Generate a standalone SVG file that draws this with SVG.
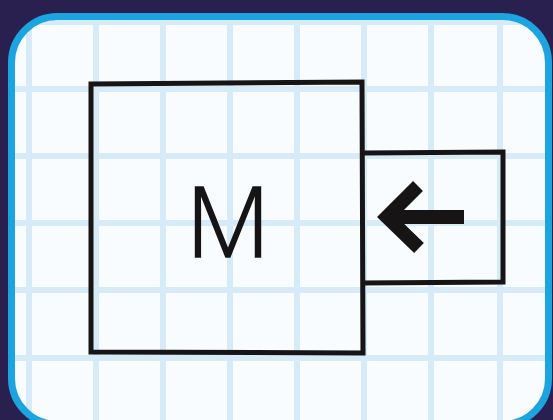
<svg xmlns="http://www.w3.org/2000/svg" width="553" height="420" viewBox="0 0 553 420">
  <defs>
    <clipPath id="paper">
      <rect x="11.5" y="16.5" width="537" height="408" rx="46" ry="46"/>
    </clipPath>
    <style>
      .grid line { stroke: #d6eaf8; stroke-width: 6; }
      .ink { fill: none; stroke: #161414; stroke-width: 5; stroke-linejoin: miter; stroke-linecap: square; }
      .arrow { fill: none; stroke: #161414; stroke-width: 14; }
      .label { font-family: "Open Sans", "Liberation Sans", sans-serif; font-weight: 300; font-size: 98px; fill: #161414; stroke: #161414; stroke-width: 1.6; }
    </style>
  </defs>
  <rect x="0" y="0" width="553" height="420" fill="#2a2050"/>
  <g id="paper-sheet">
    <rect x="11.5" y="16.5" width="537" height="408" rx="46" ry="46" fill="#f9fcff"/>
    <g class="grid" clip-path="url(#paper)">
      <line x1="29" y1="0" x2="29" y2="430"/>
      <line x1="96" y1="0" x2="96" y2="430"/>
      <line x1="163" y1="0" x2="163" y2="430"/>
      <line x1="230" y1="0" x2="230" y2="430"/>
      <line x1="297" y1="0" x2="297" y2="430"/>
      <line x1="364" y1="0" x2="364" y2="430"/>
      <line x1="431" y1="0" x2="431" y2="430"/>
      <line x1="500" y1="0" x2="500" y2="430"/>
      <line x1="0" y1="22" x2="553" y2="22"/>
      <line x1="0" y1="89" x2="553" y2="89"/>
      <line x1="0" y1="156" x2="553" y2="156"/>
      <line x1="0" y1="223" x2="553" y2="223"/>
      <line x1="0" y1="290" x2="553" y2="290"/>
      <line x1="0" y1="358" x2="553" y2="358"/>
    </g>
    <rect x="11.5" y="16.5" width="537" height="408" rx="46" ry="46" fill="none" stroke="#1ba4e0" stroke-width="7"/>
  </g>
  <g id="connectors"></g>
  <g id="node-m">
    <path class="ink" d="M91,84 L362,82 L363,353 L91,352 Z"/>
    <text class="label" x="228" y="257" text-anchor="middle">M</text>
  </g>
  <g id="node-arrow">
    <path class="ink" d="M364,153 L503,152 L503,282 L364,283"/>
    <path class="arrow" d="M418,186 L387,217 L419,248 M387,217 L464,217"/>
  </g>
</svg>
